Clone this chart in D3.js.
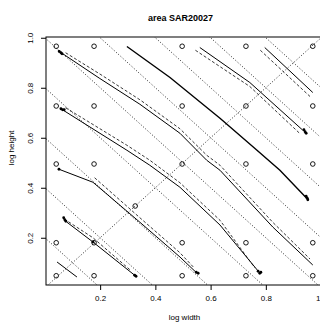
<!DOCTYPE html>
<html>
<head>
<meta charset="utf-8">
<script src="https://cdn.jsdelivr.net/npm/d3@7"></script>
<style>
  body { margin: 0; background: #fff; }
  svg { font-family: 'Liberation Sans', Arial, sans-serif; }
</style>
</head>
<body>
<div id="chart"></div>
<script>
// grid of reference points (log width, log height)
const gridX = [0.041, 0.178, 0.497, 0.728, 0.970];
const gridY = [0.048, 0.180, 0.495, 0.727, 0.966];
const centrePoint = [0.327, 0.327];

// iso-area guide lines: log width + log height = c
const isoLevels = [0.2, 0.4, 0.6, 0.8, 1.0, 1.2, 1.4, 1.6, 1.8];

const xTicks = [0.2, 0.4, 0.6, 0.8, 1.0];
const yTicks = [0.2, 0.4, 0.6, 0.8, 1.0];

// solid curves [x, y]
const solidCurves = [
  [[0.047, 0.949], [0.199, 0.837], [0.344, 0.734], [0.489, 0.618], [0.586, 0.510], [0.634, 0.470], [0.825, 0.243], [0.970, 0.091]],
  [[0.055, 0.718], [0.297, 0.550], [0.380, 0.490], [0.489, 0.402], [0.634, 0.251], [0.778, 0.059]],
  [[0.051, 0.474], [0.174, 0.422], [0.344, 0.262], [0.489, 0.123], [0.550, 0.059]],
  [[0.080, 0.262], [0.174, 0.183], [0.333, 0.043]],
  [[0.044, 0.103], [0.116, 0.043]],
  [[0.561, 0.961], [0.742, 0.821], [0.934, 0.630]],
  [[0.796, 0.961], [0.970, 0.781]]
];
// the heavier curve
const thickCurve = [[0.297, 0.965], [0.453, 0.841], [0.634, 0.678], [0.768, 0.550], [0.851, 0.470], [0.948, 0.358]];

// dashed companion curves
const dashedCurves = [
  [[0.075, 0.940], [0.199, 0.855], [0.344, 0.752], [0.489, 0.636], [0.586, 0.530], [0.634, 0.490], [0.825, 0.262], [0.960, 0.115]],
  [[0.075, 0.720], [0.297, 0.570], [0.380, 0.510], [0.489, 0.420], [0.634, 0.270], [0.760, 0.080]],
  [[0.180, 0.440], [0.344, 0.280], [0.489, 0.140], [0.540, 0.080]],
  [[0.070, 0.275], [0.174, 0.200], [0.310, 0.070]],
  [[0.545, 0.950], [0.742, 0.805], [0.925, 0.615]],
  [[0.780, 0.950], [0.960, 0.765]]
];

// small point clusters at curve ends
const markers = [
  [0.052, 0.945], [0.058, 0.940], [0.062, 0.936],
  [0.058, 0.716], [0.064, 0.712], [0.070, 0.712],
  [0.051, 0.474],
  [0.068, 0.280], [0.072, 0.272], [0.076, 0.266],
  [0.174, 0.183],
  [0.325, 0.050], [0.330, 0.046],
  [0.548, 0.062], [0.555, 0.058],
  [0.772, 0.066], [0.778, 0.058], [0.782, 0.062],
  [0.938, 0.632], [0.942, 0.624], [0.946, 0.618],
  [0.946, 0.366], [0.950, 0.358], [0.952, 0.352]
];

const width = 320;
const height = 322;
const plot = { left: 46, right: 323, top: 37, bottom: 285 };

const xScale = d3.scaleLinear().domain([0.004, 1.007]).range([plot.left, plot.right]);
const yScale = d3.scaleLinear().domain([0.011, 1.003]).range([plot.bottom, plot.top]);

const svg = d3.select('#chart')
  .append('svg')
  .attr('width', width)
  .attr('height', height);

svg.append('defs')
  .append('clipPath')
  .attr('id', 'plot-clip')
  .append('rect')
  .attr('x', plot.left)
  .attr('y', plot.top)
  .attr('width', plot.right - plot.left)
  .attr('height', plot.bottom - plot.top);

const inner = svg.append('g').attr('clip-path', 'url(#plot-clip)');

// iso-area dotted lines
inner.selectAll('line.iso')
  .data(isoLevels)
  .join('line')
  .attr('class', 'iso')
  .attr('x1', (c) => xScale(c - 1.2))
  .attr('y1', (c) => yScale(1.2))
  .attr('x2', (c) => xScale(c + 0.2))
  .attr('y2', yScale(-0.2))
  .attr('stroke', '#111')
  .attr('stroke-width', 0.9)
  .attr('stroke-dasharray', '1,2');

// square aspect diagonal
inner.append('line')
  .attr('x1', xScale(-0.2))
  .attr('y1', yScale(-0.2))
  .attr('x2', xScale(1.2))
  .attr('y2', yScale(1.2))
  .attr('stroke', '#111')
  .attr('stroke-width', 0.9)
  .attr('stroke-dasharray', '1,2');

const line = d3.line()
  .x((d) => xScale(d[0]))
  .y((d) => yScale(d[1]));

inner.selectAll('path.dashed')
  .data(dashedCurves)
  .join('path')
  .attr('class', 'dashed')
  .attr('d', line)
  .attr('fill', 'none')
  .attr('stroke', '#222')
  .attr('stroke-width', 0.9)
  .attr('stroke-dasharray', '3,2');

inner.selectAll('path.solid')
  .data(solidCurves)
  .join('path')
  .attr('class', 'solid')
  .attr('d', line)
  .attr('fill', 'none')
  .attr('stroke', '#000')
  .attr('stroke-width', 1);

inner.append('path')
  .datum(thickCurve)
  .attr('d', line)
  .attr('fill', 'none')
  .attr('stroke', '#000')
  .attr('stroke-width', 1.4);

// open reference circles
const gridPoints = [];
gridY.forEach((gy) => gridX.forEach((gx) => gridPoints.push([gx, gy])));
gridPoints.push(centrePoint);

inner.selectAll('circle.grid')
  .data(gridPoints)
  .join('circle')
  .attr('class', 'grid')
  .attr('cx', (d) => xScale(d[0]))
  .attr('cy', (d) => yScale(d[1]))
  .attr('r', 2.3)
  .attr('fill', 'none')
  .attr('stroke', '#000')
  .attr('stroke-width', 0.9);

inner.selectAll('circle.marker')
  .data(markers)
  .join('circle')
  .attr('class', 'marker')
  .attr('cx', (d) => xScale(d[0]))
  .attr('cy', (d) => yScale(d[1]))
  .attr('r', 1.4)
  .attr('fill', '#000');

// box
svg.append('rect')
  .attr('x', plot.left)
  .attr('y', plot.top)
  .attr('width', plot.right - plot.left)
  .attr('height', plot.bottom - plot.top)
  .attr('fill', 'none')
  .attr('stroke', '#000')
  .attr('stroke-width', 1);

// x axis
const xAxis = svg.append('g')
  .attr('transform', `translate(0, ${plot.bottom})`)
  .call(d3.axisBottom(xScale).tickValues(xTicks).tickSize(5).tickPadding(5).tickFormat(d3.format('.1f')));
xAxis.select('.domain').remove();
xAxis.selectAll('text')
  .attr('font-size', 8)
  .attr('font-family', 'Liberation Sans, Arial, sans-serif')
  .attr('fill', '#000');

// y axis
const yAxis = svg.append('g')
  .attr('transform', `translate(${plot.left}, 0)`)
  .call(d3.axisLeft(yScale).tickValues(yTicks).tickSize(5).tickPadding(0).tickFormat(d3.format('.1f')));
yAxis.select('.domain').remove();
yAxis.selectAll('text')
  .attr('font-size', 8)
  .attr('font-family', 'Liberation Sans, Arial, sans-serif')
  .attr('fill', '#000')
  .attr('x', 0)
  .attr('dy', 0)
  .attr('text-anchor', 'middle')
  .attr('transform', 'translate(-13, 0) rotate(-90)');

// titles
svg.append('text')
  .attr('x', (plot.left + plot.right) / 2 - 4)
  .attr('y', 21)
  .attr('text-anchor', 'middle')
  .attr('font-size', 9)
  .attr('font-weight', 'bold')
  .text('area SAR20027');

svg.append('text')
  .attr('x', (plot.left + plot.right) / 2)
  .attr('y', 320)
  .attr('text-anchor', 'middle')
  .attr('font-size', 8)
  .text('log width');

svg.append('text')
  .attr('transform', 'translate(14, 148) rotate(-90)')
  .attr('text-anchor', 'middle')
  .attr('font-size', 8)
  .text('log height');
</script>
</body>
</html>
